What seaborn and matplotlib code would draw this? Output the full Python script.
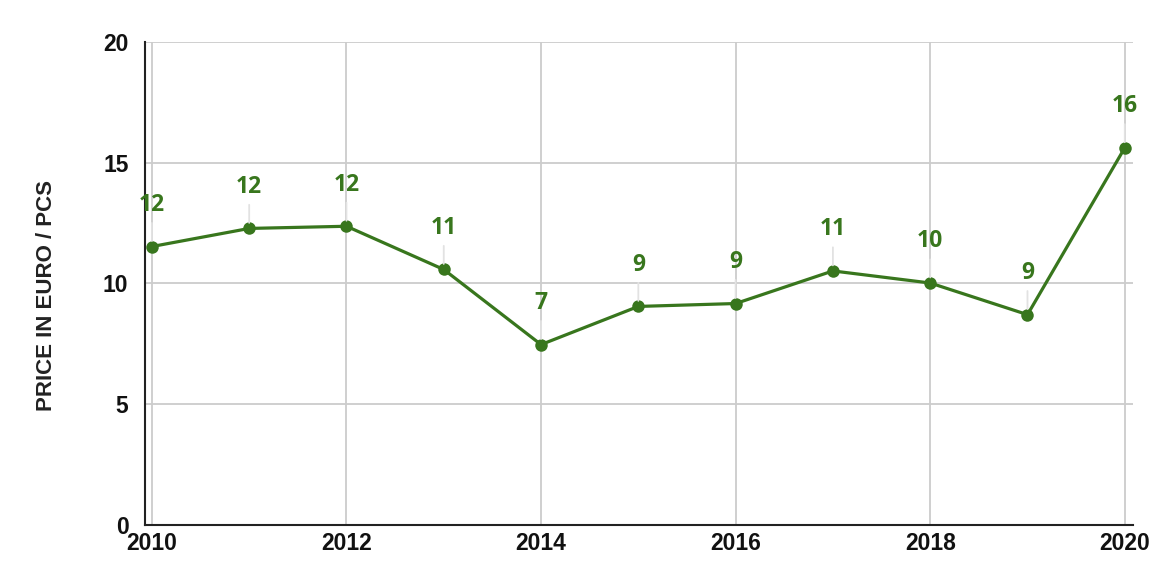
import numpy as np
import pandas as pd
import matplotlib
matplotlib.use('Agg')
import matplotlib.pyplot as plt
import seaborn as sns

# Values
years = [2010, 2011, 2012, 2013, 2014, 2015, 2016, 2017, 2018, 2019, 2020]
prices = [11.53, 12.28, 12.37, 10.58, 7.47, 9.05, 9.17, 10.52, 10.02, 8.71, 15.62]
y_ticks = [0, 5, 10, 15, 20]
x_ticks = [2010, 2012, 2014, 2016, 2018, 2020]

data = pd.DataFrame({'Year': years, 'Price': prices})
green = '#38761d'

sns.set_style('white')
plt.rcParams['font.family'] = ['Liberation Sans', 'DejaVu Sans']

fig = plt.figure(figsize=(11.7, 5.85), dpi=100)
ax = fig.add_axes([0.124, 0.1026, 0.844, 0.8256])

ax.set_xticks(x_ticks)
ax.set_yticks(y_ticks)
ax.grid(True, color='#cccccc', linewidth=1.3)
ax.set_axisbelow(True)

sns.lineplot(data=data, x='Year', y='Price', ax=ax, color=green, linewidth=2.3,
             marker='o', markersize=9, markeredgewidth=0, zorder=3)

# Data labels with thin leader lines
for yr, val in zip(years, prices):
    ax.annotate(str(int(val + 0.5)), xy=(yr, val), xytext=(0, 30), textcoords='offset points',
                ha='center', va='center', fontsize=16.5, fontweight='bold', color=green,
                family=['Open Sans', 'DejaVu Sans'],
                arrowprops=dict(arrowstyle='-', color='#e2e2e2', lw=1.3, shrinkA=2, shrinkB=4),
                zorder=4)

ax.set_xlim(2009.93, 2020.08)
ax.set_ylim(0, 20)
ax.set_xlabel('')
ax.set_ylabel('PRICE IN EURO / PCS', fontsize=16, fontweight='bold', color='#222222')
ax.yaxis.set_label_coords(-0.089, 0.476)

for s in ['top', 'right']:
    ax.spines[s].set_visible(False)
for s in ['left', 'bottom']:
    ax.spines[s].set_color('#222222')
    ax.spines[s].set_linewidth(1.5)

ax.tick_params(axis='both', length=0, labelsize=16.5, colors='#111111')
ax.tick_params(axis='y', pad=12)
ax.tick_params(axis='x', pad=5)
for lbl in ax.get_xticklabels() + ax.get_yticklabels():
    lbl.set_fontweight('bold')

plt.savefig('out.png', dpi=100)
